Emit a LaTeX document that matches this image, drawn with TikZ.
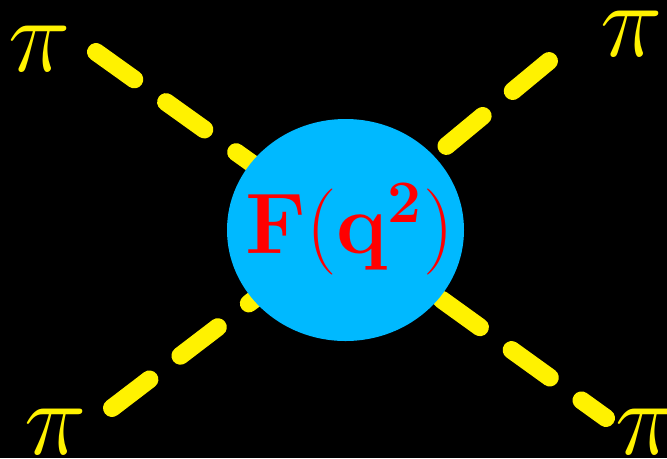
\RequirePackage{fix-cm}
\documentclass[tikz,border=0pt]{standalone}
\usepackage{amsmath}
\usetikzlibrary{shapes.geometric}
\definecolor{blobblue}{RGB}{0,185,255}

\begin{document}
\begin{tikzpicture}[
    meson/.style={line width=5.1pt, yellow, line cap=round, dash pattern=on 13.4pt off 11.1pt},
    blob/.style={ellipse, fill=blobblue, inner sep=0pt, minimum width=2.37cm, minimum height=2.22cm},
    formlabel/.style={text=red, font=\fontsize{24.5}{29}\selectfont},
    pilabel/.style={text=yellow, inner sep=0pt, font=\fontsize{30}{32}\selectfont}
  ]

  % Hintergrund
  \fill[black] (0,0) rectangle (6.67,4.58);
  \useasboundingbox (0,0) rectangle (6.67,4.58);

  % Vertex und Endpunkte der Linien
  \coordinate (vtx) at (3.45, 2.28);
  \coordinate (ul) at (0.96, 4.06);
  \coordinate (ur) at (5.49, 3.97);
  \coordinate (ll) at (1.12, 0.50);
  \coordinate (lr) at (6.06, 0.40);

  % Pion-Linien (gestrichelt)
  \draw[meson] (ul) -- (vtx);
  \draw[meson] (ur) -- (vtx);
  \draw[meson] (ll) -- (vtx);
  \draw[meson, dash phase=4.8pt] (lr) -- (vtx);

  % Formfaktor-Blase
  \node[blob] (ff) at (3.455, 2.28) {};
  \node[formlabel] (fq) at (3.495, 2.29) {$\mathbf{F(q^2)}$};

  % Pionen an den Ecken
  \node[pilabel] (pi1) at (0.40, 4.09) {$\pi$};
  \node[pilabel] (pi2) at (6.32, 4.24) {$\pi$};
  \node[pilabel] (pi3) at (0.56, 0.26) {$\pi$};
  \node[pilabel] (pi4) at (6.47, 0.26) {$\pi$};

\end{tikzpicture}
\end{document}
